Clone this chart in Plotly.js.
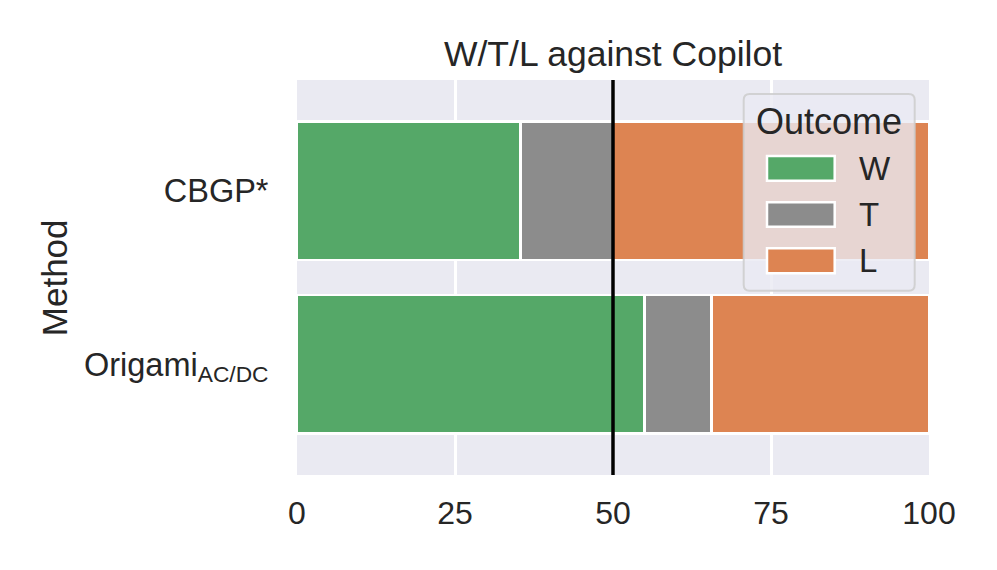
<!DOCTYPE html>
<html>
<head>
<meta charset="utf-8">
<script src="https://cdn.plot.ly/plotly-3.0.1.min.js"></script>
<style>html,body{margin:0;padding:0;background:#fff;}#chart{width:997px;height:570px;}</style>
</head>
<body>
<div id="chart"></div>
<script>
// Data
const methods = ['CBGP*', 'Origami<sub>AC/DC</sub>'];
const winPct = [35.4, 55.0];
const tiePct = [14.6, 10.6];
const lossPct = [50.0, 34.4];
const outcomes = ['W', 'T', 'L'];
const xTicks = [0, 25, 50, 75, 100];
const refLine = 50;

const colors = {W: '#55a868', T: '#8c8c8c', L: '#dd8452'};
const txt = '#262626';
const fam = 'Arial, Liberation Sans, sans-serif';
const series = {W: winPct, T: tiePct, L: lossPct};

const traces = outcomes.map(o => ({
  type: 'bar', orientation: 'h', name: o,
  y: methods, x: series[o], width: 0.8,
  marker: {color: colors[o], line: {color: '#ffffff', width: 2.5}},
  showlegend: false, hoverinfo: 'x+y'
}));

// pixel -> paper helpers (plot area 297.3..929.3 x 80..475)
const L0 = 297.3, R0 = 929.3, T0 = 80, B0 = 475;
const px = x => (x - L0) / (R0 - L0);
const py = y => (B0 - y) / (B0 - T0);

function roundRect(x0, y0, x1, y1, r) {
  const a = px(x0), b = px(x1), c = py(y0), d = py(y1);
  const rx = r / (R0 - L0), ry = r / (B0 - T0);
  return `M ${a+rx},${c} L ${b-rx},${c} Q ${b},${c} ${b},${c-ry} L ${b},${d+ry} Q ${b},${d} ${b-rx},${d} L ${a+rx},${d} Q ${a},${d} ${a},${d+ry} L ${a},${c-ry} Q ${a},${c} ${a+rx},${c} Z`;
}

const shapes = [
  {type: 'line', xref: 'x', yref: 'paper', x0: refLine, x1: refLine, y0: 0, y1: 1,
   line: {color: '#000000', width: 3.5}, layer: 'above'},
  {type: 'path', xref: 'paper', yref: 'paper', path: roundRect(744, 94, 915, 290.7, 6),
   fillcolor: 'rgba(234,234,242,0.8)', line: {color: 'rgba(204,204,204,0.85)', width: 2}, layer: 'above'}
];
const annotations = [
  {xref: 'paper', yref: 'paper', x: px(829.5), y: py(121), text: 'Outcome', showarrow: false,
   xanchor: 'center', yanchor: 'middle', font: {size: 36, color: txt, family: fam}},
  {xref: 'paper', yref: 'paper', x: px(55), y: 0.5, text: 'Method', showarrow: false, textangle: -90,
   xanchor: 'center', yanchor: 'middle', font: {size: 35, color: txt, family: fam}}
];
const swY = [[156, 180.7], [202.3, 226.7], [248.3, 273.3]];
outcomes.forEach((o, i) => {
  shapes.push({type: 'rect', xref: 'paper', yref: 'paper', x0: px(767.3), x1: px(835),
    y0: py(swY[i][1]), y1: py(swY[i][0]), fillcolor: colors[o],
    line: {color: '#ffffff', width: 2.5}, layer: 'above'});
  annotations.push({xref: 'paper', yref: 'paper', x: px(857), y: py((swY[i][0] + swY[i][1]) / 2),
    text: o, showarrow: false, xanchor: 'left', yanchor: 'middle',
    font: {size: 33, color: txt, family: fam}});
});

const layout = {
  width: 997, height: 570,
  margin: {l: L0, r: 997 - R0, t: T0, b: 570 - B0, pad: 0},
  paper_bgcolor: '#ffffff', plot_bgcolor: '#eaeaf2',
  barmode: 'stack', bargap: 0.2,
  font: {family: fam, color: txt},
  title: {text: 'W/T/L against Copilot', x: 0.5, xref: 'paper', xanchor: 'center',
    y: 1 - 54/570, yref: 'container', yanchor: 'middle',
    font: {size: 35.5, color: txt, family: fam}},
  xaxis: {range: [0, 100], tickvals: xTicks, ticktext: xTicks.map(String),
    showgrid: true, gridcolor: '#ffffff', gridwidth: 3, zeroline: false, showline: false,
    ticks: 'outside', ticklen: 10, tickcolor: 'rgba(0,0,0,0)',
    tickfont: {size: 32, color: txt, family: fam}},
  yaxis: {type: 'category', range: [1.639, -0.638], showgrid: true, gridcolor: '#ffffff', gridwidth: 3,
    zeroline: false, showline: false, ticks: 'outside', ticklen: 21, tickcolor: 'rgba(0,0,0,0)',
    tickfont: {size: 32.5, color: txt, family: fam}},
  shapes: shapes, annotations: annotations, showlegend: false
};

Plotly.newPlot('chart', traces, layout, {displayModeBar: false, staticPlot: true});
</script>
</body>
</html>
